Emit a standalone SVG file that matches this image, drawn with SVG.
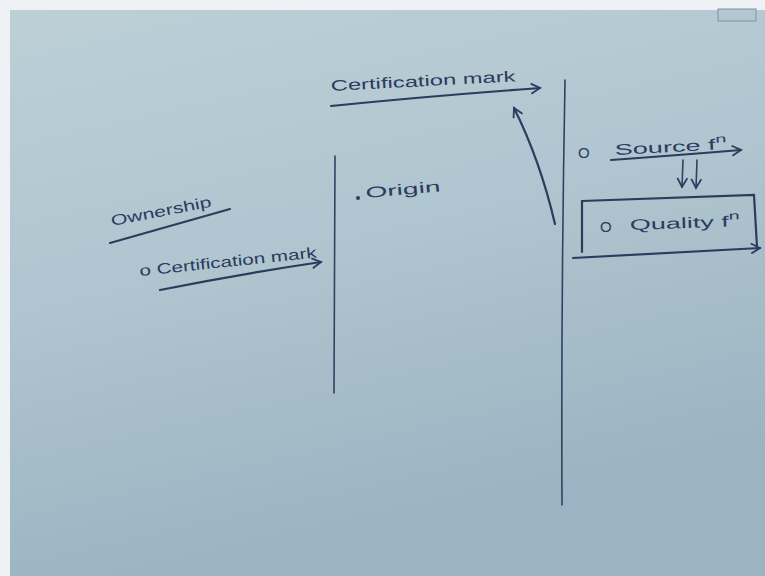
<svg xmlns="http://www.w3.org/2000/svg" width="765" height="576" viewBox="0 0 765 576">
<defs>
<linearGradient id="bg" x1="0" y1="0" x2="0.3" y2="1">
<stop offset="0" stop-color="#bdd0d8"/>
<stop offset="0.5" stop-color="#afc5cf"/>
<stop offset="1" stop-color="#9bb3c2"/>
</linearGradient>
<marker id="ah" viewBox="0 0 12 12" refX="10" refY="6" markerWidth="12" markerHeight="12" markerUnits="userSpaceOnUse" orient="auto">
<path d="M1,1 L10,6 L1,11" fill="none" stroke="#2c3b5e" stroke-width="1.8"/>
</marker>
</defs>
<style>
.ink{fill:none;stroke:#2c3b5e;stroke-width:2.2;stroke-linecap:round}
.thin{fill:none;stroke:#33415f;stroke-width:1.6;stroke-linecap:round}
.t{font-family:"Liberation Sans",Arial,sans-serif;fill:#2c3b5e;font-size:15px}
</style>
<rect width="765" height="576" fill="url(#bg)"/>
<rect x="0" y="0" width="765" height="10" fill="#eef2f4"/>
<rect x="0" y="0" width="10" height="576" fill="#eef2f4"/>
<rect x="718" y="9" width="38" height="12" fill="#b3c7d2" stroke="#7e93a6" stroke-width="1"/>

<g id="dividers">
<path class="thin" d="M335,156 L334,393"/>
<path class="thin" d="M565,80 Q561,300 562,505"/>
</g>

<g id="certification-mark-top">
<text class="t" x="331" y="91" textLength="185" lengthAdjust="spacingAndGlyphs" transform="rotate(-3 331 91)">Certification  mark</text>
</g>

<g id="ownership">
<text class="t" x="112" y="226" textLength="102" lengthAdjust="spacingAndGlyphs" font-size="17" transform="rotate(-11 112 226)">Ownership</text>
</g>

<g id="certification-mark-left">
<text class="t" x="140" y="276" textLength="178" lengthAdjust="spacingAndGlyphs" font-size="13" transform="rotate(-6 140 276)">o Certification mark</text>
</g>

<g id="origin">
<circle cx="358" cy="198" r="2" fill="#2c3b5e"/>
<text class="t" x="366" y="198" textLength="75" lengthAdjust="spacingAndGlyphs" font-size="16" transform="rotate(-5 366 198)">Origin</text>
</g>

<g id="source-fn">
<text class="t" x="578" y="158" font-size="18">O</text>
<text class="t" x="615" y="155" font-size="18" textLength="112" lengthAdjust="spacingAndGlyphs" transform="rotate(-3 615 155)">Source f<tspan font-size="11" dy="-7">n</tspan></text>
</g>

<g id="quality-fn">
<path class="ink" d="M582,201 L754,195 L757,247"/>
<path class="ink" d="M582,201 L582,252"/>
<text class="t" x="600" y="232" font-size="15">O</text>
<text class="t" x="630" y="230" font-size="17" textLength="110" lengthAdjust="spacingAndGlyphs" transform="rotate(-2 630 230)">Quality f<tspan font-size="11" dy="-7">n</tspan></text>
</g>

<g id="connectors">
<path class="ink" d="M331,106 Q430,96 540,88" marker-end="url(#ah)"/>
<path class="ink" d="M555,224 Q540,160 514,108" marker-end="url(#ah)"/>
<path class="ink" d="M110,243 Q170,226 230,209"/>
<path class="ink" d="M160,290 Q240,274 321,262" marker-end="url(#ah)"/>
<path class="ink" d="M611,160 Q680,155 741,150" marker-end="url(#ah)"/>
<path class="thin" d="M683,160 L682,187" marker-end="url(#ah)"/>
<path class="thin" d="M697,160 L696,188" marker-end="url(#ah)"/>
<path class="ink" d="M573,258 Q670,253 760,248" marker-end="url(#ah)"/>
</g>
</svg>
